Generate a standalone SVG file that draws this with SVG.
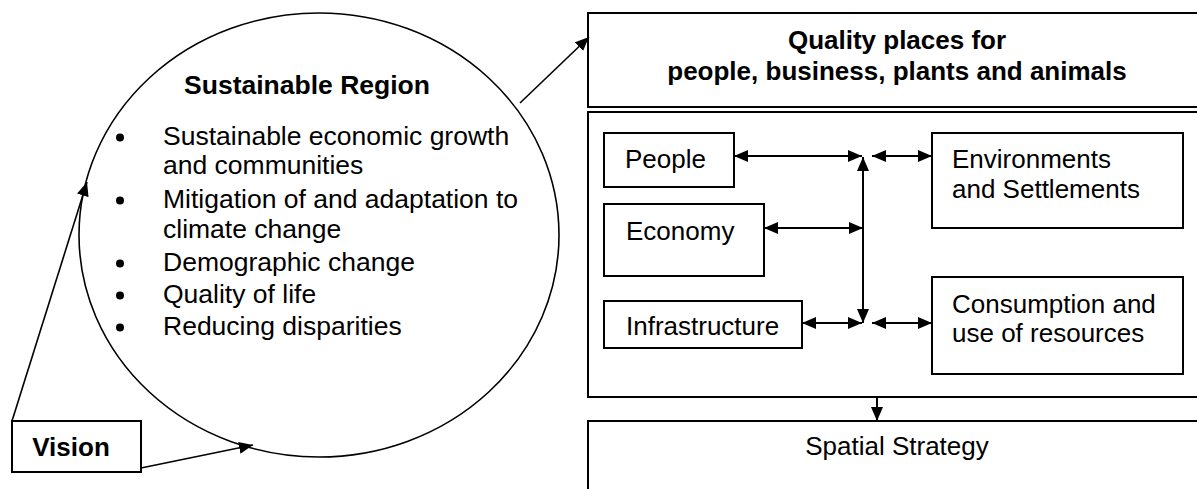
<svg xmlns="http://www.w3.org/2000/svg" width="1197" height="489" viewBox="0 0 1197 489">
<defs>
<style>
.t{font-family:"Liberation Sans",Arial,sans-serif;font-size:26px;fill:#000}
.l{font-size:26.5px}
.b{font-weight:bold}
.m{text-anchor:middle}
.box{fill:#fff;stroke:#000;stroke-width:2}
.ln{fill:none;stroke:#000;stroke-width:2}
.thin{fill:none;stroke:#000;stroke-width:1.6}
</style>
<marker id="ah" viewBox="0 0 14 12" markerWidth="14" markerHeight="12" refX="14" refY="6" orient="auto-start-reverse" markerUnits="userSpaceOnUse">
<path d="M0,0 L14,6 L0,12 z" fill="#000"/>
</marker>
</defs>
<rect width="1197" height="489" fill="#fff"/>

<g id="region">
<ellipse cx="319" cy="235" rx="240" ry="222" class="thin"/>
<text class="t l b m" x="307" y="94">Sustainable Region</text>
<g fill="#000">
<circle cx="120" cy="137.5" r="4"/>
<circle cx="120" cy="200.5" r="4"/>
<circle cx="120" cy="263.5" r="4"/>
<circle cx="120" cy="295.5" r="4"/>
<circle cx="120" cy="327.5" r="4"/>
</g>
<g class="t l">
<text x="163" y="145">Sustainable economic growth</text>
<text x="163" y="174">and communities</text>
<text x="163" y="208">Mitigation of and adaptation to</text>
<text x="163" y="238">climate change</text>
<text x="163" y="271">Demographic change</text>
<text x="163" y="303">Quality of life</text>
<text x="163" y="335">Reducing disparities</text>
</g>
</g>

<g id="vision">
<rect class="box" x="12" y="421" width="129" height="51"/>
<text class="t b m" x="71" y="456">Vision</text>
</g>

<g id="quality">
<rect class="box" x="588" y="13" width="620" height="94"/>
<text class="t b m" x="897" y="49">Quality places for</text>
<text class="t b m" x="897" y="80">people, business, plants and animals</text>
</g>

<g id="panel">
<rect class="box" x="588" y="112" width="620" height="285"/>
</g>

<g id="people">
<rect class="box" x="604" y="133" width="130" height="54"/>
<text class="t" x="625" y="168">People</text>
</g>
<g id="economy">
<rect class="box" x="604" y="204" width="160" height="72"/>
<text class="t" x="626" y="240">Economy</text>
</g>
<g id="infrastructure">
<rect class="box" x="604" y="301" width="198" height="47"/>
<text class="t" x="626" y="335">Infrastructure</text>
</g>
<g id="environments">
<rect class="box" x="932" y="133" width="251" height="95"/>
<text class="t" x="952" y="168">Environments</text>
<text class="t" x="952" y="198">and Settlements</text>
</g>
<g id="consumption">
<rect class="box" x="932" y="277" width="251" height="97"/>
<text class="t" x="952" y="313">Consumption and</text>
<text class="t" x="952" y="342">use of resources</text>
</g>

<g id="spatial">
<rect class="box" x="588" y="421" width="620" height="90"/>
<text class="t m" x="897" y="455">Spatial Strategy</text>
</g>

<g id="connectors">
<line class="thin" x1="12" y1="421" x2="87" y2="182" marker-end="url(#ah)"/>
<line class="thin" x1="141" y1="468" x2="253" y2="445" marker-end="url(#ah)"/>
<line class="thin" x1="520" y1="103" x2="589" y2="37" marker-end="url(#ah)"/>
<line class="ln" x1="734" y1="156" x2="862" y2="156" marker-start="url(#ah)" marker-end="url(#ah)"/>
<line class="ln" x1="872" y1="156" x2="932" y2="156" marker-start="url(#ah)" marker-end="url(#ah)"/>
<line class="ln" x1="764" y1="228" x2="863" y2="228" marker-start="url(#ah)" marker-end="url(#ah)"/>
<line class="ln" x1="863" y1="157" x2="863" y2="323" marker-start="url(#ah)" marker-end="url(#ah)"/>
<line class="ln" x1="802" y1="323" x2="862" y2="323" marker-start="url(#ah)" marker-end="url(#ah)"/>
<line class="ln" x1="872" y1="323" x2="932" y2="323" marker-start="url(#ah)" marker-end="url(#ah)"/>
<line class="ln" x1="877" y1="397" x2="877" y2="421" marker-end="url(#ah)"/>
</g>
</svg>
